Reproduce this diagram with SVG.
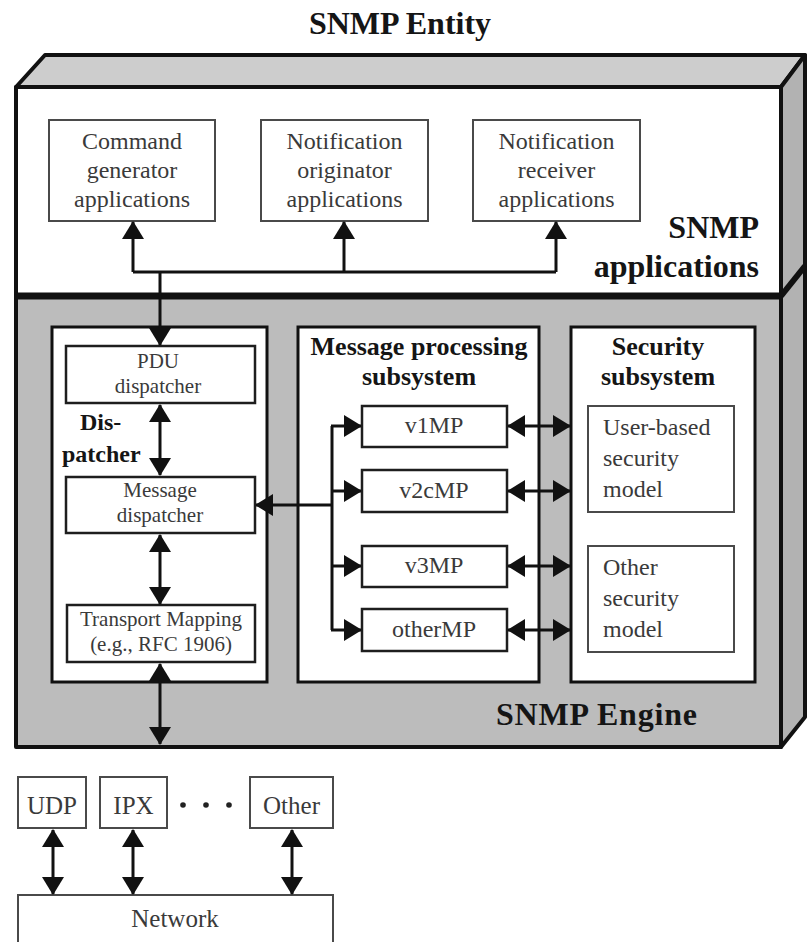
<svg xmlns="http://www.w3.org/2000/svg" width="807" height="942" viewBox="0 0 807 942">
<style>
.t{font-family:"Liberation Serif","Times New Roman",serif;fill:#3a3a3a}
.b{font-family:"Liberation Serif","Times New Roman",serif;font-weight:bold;fill:#151515}
.c{text-anchor:middle}
.box{fill:#fff;stroke:#4a4a4a;stroke-width:2}
.ibox{fill:#fff;stroke:#1e1e1e;stroke-width:2.5}
.sub{fill:#fff;stroke:#111;stroke-width:3}
.edge{stroke:#111;stroke-width:4;stroke-linejoin:round}
.top{fill:#cdcdcd}
.side{fill:#b2b2b2}
.front{fill:#fff}
.engine{fill:#bcbcbc}
.ln{fill:none;stroke:#111;stroke-width:3}
.arr{marker-end:url(#ah)}
.dbl{marker-start:url(#ah);marker-end:url(#ah)}
</style>
<defs>
<marker id="ah" viewBox="0 0 18 22" refX="17" refY="11" markerWidth="18" markerHeight="22" markerUnits="userSpaceOnUse" orient="auto-start-reverse">
<path d="M0,0 L18,11 L0,22 z" fill="#111"/>
</marker>
</defs>
<rect width="807" height="942" fill="#fff"/>
<text class="b c" x="400" y="34" font-size="32">SNMP Entity</text>

<g id="entity-frame">
<polygon class="edge top" points="16,87 45,55 805,55 781,87"/>
<polygon class="edge side" points="781,87 805,55 805,717 781,747"/>
<rect class="edge front" x="16" y="87" width="765" height="209"/>
<rect class="edge engine" x="16" y="296" width="765" height="451"/>
<line x1="16" y1="296" x2="781" y2="296" stroke="#111" stroke-width="7"/>
<line x1="781" y1="296" x2="805" y2="266" stroke="#111" stroke-width="6"/>
</g>

<g id="snmp-applications-label">
<text class="b" x="759" y="238" font-size="32" text-anchor="end">SNMP</text>
<text class="b" x="759" y="277" font-size="32" text-anchor="end">applications</text>
</g>

<g id="command-generator">
<rect class="box" x="49" y="120" width="166" height="101"/>
<text class="t c" x="132" y="149" font-size="24">Command</text>
<text class="t c" x="132" y="178" font-size="24">generator</text>
<text class="t c" x="132" y="207" font-size="24">applications</text>
</g>
<g id="notification-originator">
<rect class="box" x="261" y="120" width="167" height="101"/>
<text class="t c" x="344.5" y="149" font-size="24">Notification</text>
<text class="t c" x="344.5" y="178" font-size="24">originator</text>
<text class="t c" x="344.5" y="207" font-size="24">applications</text>
</g>
<g id="notification-receiver">
<rect class="box" x="473" y="120" width="167" height="101"/>
<text class="t c" x="556.5" y="149" font-size="24">Notification</text>
<text class="t c" x="556.5" y="178" font-size="24">receiver</text>
<text class="t c" x="556.5" y="207" font-size="24">applications</text>
</g>

<g id="dispatcher">
<rect class="sub" x="52" y="327" width="215" height="355"/>
<text class="b" x="80" y="430" font-size="24">Dis-</text>
<text class="b" x="62" y="462" font-size="24">patcher</text>
</g>
<g id="pdu-dispatcher">
<rect class="ibox" x="66" y="346" width="189" height="57"/>
<text class="t c" x="158" y="368" font-size="21">PDU</text>
<text class="t c" x="158" y="393" font-size="21">dispatcher</text>
</g>
<g id="message-dispatcher">
<rect class="ibox" x="66" y="477" width="189" height="56"/>
<text class="t c" x="160" y="497" font-size="21">Message</text>
<text class="t c" x="160" y="522" font-size="21">dispatcher</text>
</g>
<g id="transport-mapping">
<rect class="ibox" x="67" y="605" width="188" height="57" stroke-width="3.5"/>
<text class="t c" x="161" y="626" font-size="21">Transport Mapping</text>
<text class="t c" x="161" y="651" font-size="21">(e.g., RFC 1906)</text>
</g>

<g id="message-processing-subsystem">
<rect class="sub" x="298" y="327" width="241" height="355"/>
<text class="b c" x="419" y="355" font-size="26">Message processing</text>
<text class="b c" x="419" y="385" font-size="26">subsystem</text>
</g>
<g id="v1mp">
<rect class="ibox" x="362" y="406" width="145" height="41"/>
<text class="t c" x="434" y="433" font-size="24">v1MP</text>
</g>
<g id="v2cmp">
<rect class="ibox" x="362" y="470" width="145" height="42"/>
<text class="t c" x="434" y="498" font-size="24">v2cMP</text>
</g>
<g id="v3mp">
<rect class="ibox" x="362" y="546" width="145" height="41"/>
<text class="t c" x="434" y="573" font-size="24">v3MP</text>
</g>
<g id="othermp">
<rect class="ibox" x="362" y="609" width="145" height="42"/>
<text class="t c" x="434" y="637" font-size="24">otherMP</text>
</g>

<g id="security-subsystem">
<rect class="sub" x="571" y="327" width="184" height="355"/>
<text class="b c" x="658" y="355" font-size="26">Security</text>
<text class="b c" x="658" y="385" font-size="26">subsystem</text>
</g>
<g id="user-based-security-model">
<rect class="box" x="588" y="406" width="146" height="106" stroke="#333"/>
<text class="t" x="603" y="435" font-size="24">User-based</text>
<text class="t" x="603" y="466" font-size="24">security</text>
<text class="t" x="603" y="497" font-size="24">model</text>
</g>
<g id="other-security-model">
<rect class="box" x="588" y="546" width="146" height="106" stroke="#333"/>
<text class="t" x="603" y="575" font-size="24">Other</text>
<text class="t" x="603" y="606" font-size="24">security</text>
<text class="t" x="603" y="637" font-size="24">model</text>
</g>

<g id="snmp-engine-label">
<text class="b" x="496" y="725" font-size="32" textLength="201">SNMP Engine</text>
</g>

<g id="udp">
<rect class="box" x="18" y="777" width="68" height="51"/>
<text class="t c" x="52" y="814" font-size="25">UDP</text>
</g>
<g id="ipx">
<rect class="box" x="100" y="777" width="67" height="51"/>
<text class="t c" x="133.5" y="814" font-size="25">IPX</text>
</g>
<g id="ellipsis">
<circle cx="183" cy="805" r="2.8" fill="#222"/>
<circle cx="206" cy="805" r="2.8" fill="#222"/>
<circle cx="229" cy="805" r="2.8" fill="#222"/>
</g>
<g id="other-transport">
<rect class="box" x="250" y="777" width="83" height="51"/>
<text class="t c" x="291.5" y="814" font-size="25">Other</text>
</g>
<g id="network">
<rect class="box" x="18" y="895" width="315" height="60"/>
<text class="t c" x="175" y="927" font-size="25">Network</text>
</g>

<g id="connectors">
<polyline class="ln" points="133,272 556,272"/>
<line class="ln arr" x1="133" y1="272" x2="133" y2="222"/>
<line class="ln arr" x1="344" y1="272" x2="344" y2="222"/>
<line class="ln arr" x1="556" y1="272" x2="556" y2="222"/>
<line class="ln arr" x1="160" y1="272" x2="160" y2="345"/>
<line class="ln dbl" x1="160" y1="405" x2="160" y2="475"/>
<line class="ln dbl" x1="160" y1="535" x2="160" y2="604"/>
<line class="ln dbl" x1="160" y1="664" x2="160" y2="744"/>
<line class="ln arr" x1="332" y1="505" x2="256" y2="505"/>
<polyline class="ln" points="332,426 332,630"/>
<line class="ln arr" x1="331" y1="426" x2="361" y2="426"/>
<line class="ln arr" x1="331" y1="491" x2="361" y2="491"/>
<line class="ln arr" x1="331" y1="566" x2="361" y2="566"/>
<line class="ln arr" x1="331" y1="630" x2="361" y2="630"/>
<line class="ln dbl" x1="508" y1="426" x2="570" y2="426"/>
<line class="ln dbl" x1="508" y1="491" x2="570" y2="491"/>
<line class="ln dbl" x1="508" y1="566" x2="570" y2="566"/>
<line class="ln dbl" x1="508" y1="630" x2="570" y2="630"/>
<line class="ln dbl" x1="53" y1="830" x2="53" y2="894"/>
<line class="ln dbl" x1="133" y1="830" x2="133" y2="894"/>
<line class="ln dbl" x1="292" y1="830" x2="292" y2="894"/>
</g>
</svg>
